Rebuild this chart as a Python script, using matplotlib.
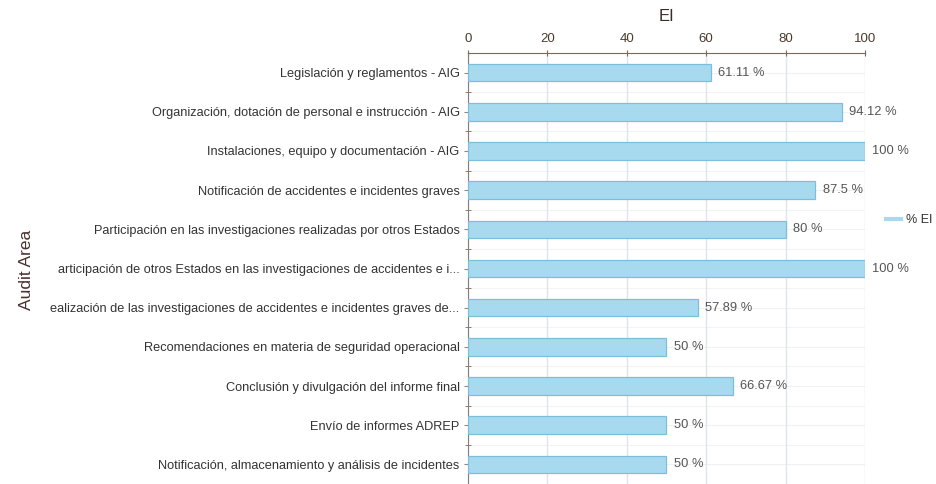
import matplotlib

matplotlib.use("Agg")
import matplotlib.pyplot as plt

areas = [
    "Legislación y reglamentos - AIG",
    "Organización, dotación de personal e instrucción - AIG",
    "Instalaciones, equipo y documentación - AIG",
    "Notificación de accidentes e incidentes graves",
    "Participación en las investigaciones realizadas por otros Estados",
    "articipación de otros Estados en las investigaciones de accidentes e i...",
    "ealización de las investigaciones de accidentes e incidentes graves de...",
    "Recomendaciones en materia de seguridad operacional",
    "Conclusión y divulgación del informe final",
    "Envío de informes ADREP",
    "Notificación, almacenamiento y análisis de incidentes",
]
ei = [61.11, 94.12, 100, 87.5, 80, 100, 57.89, 50, 66.67, 50, 50]
value_labels = ["61.11 %", "94.12 %", "100 %", "87.5 %", "80 %", "100 %",
                "57.89 %", "50 %", "66.67 %", "50 %", "50 %"]
x_ticks = [0, 20, 40, 60, 80, 100]

plt.rcParams["font.family"] = ["Liberation Sans", "DejaVu Sans"]

fig = plt.figure(figsize=(9.37, 4.84), dpi=100)
ax = fig.add_axes([468 / 937, 0.0, 397 / 937, 1 - 53 / 484])

ypos = list(range(len(areas)))
ax.barh(ypos, ei, height=0.45, color="#a8daef", edgecolor="#7cbfdb",
        linewidth=0.9, zorder=3, label="% EI")
for y, v, lab in zip(ypos, ei, value_labels):
    ax.text(v + 1.8, y, lab, va="center", ha="left", fontsize=9.3,
            color="#555555", zorder=4)

ax.set_xlim(0, 100)
ax.set_ylim(len(areas) - 0.5, -0.5)
ax.xaxis.tick_top()
ax.xaxis.set_label_position("top")
ax.set_xticks(x_ticks)
ax.set_xticklabels([str(t) for t in x_ticks], fontsize=9.5, color="#4a3b2e")
ax.tick_params(axis="x", length=4, direction="inout", color="#7a6a5a", pad=4)

ax.set_yticks(ypos)
ax.set_yticklabels(areas, fontsize=9.2, color="#333333")
ax.tick_params(axis="y", length=3, direction="out", color="#8a8a8a", pad=3)
ax.set_yticks([y + 0.5 for y in ypos[:-1]], minor=True)
ax.tick_params(axis="y", which="minor", length=4, direction="inout", color="#7a6a5a")

ax.grid(axis="x", color="#dfe4ee", linewidth=1, zorder=0)
for y in ypos:
    ax.axhline(y, color="#f0f0f0", linewidth=0.8, zorder=0)
for y in ypos[:-1]:
    ax.axhline(y + 0.5, color="#f3f3f3", linewidth=0.8, zorder=0)

for side in ["right", "bottom"]:
    ax.spines[side].set_visible(False)
ax.spines["top"].set_color("#7a6a5a")
ax.spines["left"].set_color("#8a7a7a")

ax.set_title("EI", fontsize=12, color="#3a2a2a", pad=23)
fig.text(27 / 937, 1 - 270 / 484, "Audit Area", rotation=90, va="center",
         ha="center", fontsize=12.5, color="#4a3030")

leg = fig.legend(handles=[plt.Line2D([], [], color="#a8daef", linewidth=3)],
                 labels=["% EI"], loc="center left",
                 bbox_to_anchor=(886 / 937, 1 - 220 / 484), frameon=False,
                 fontsize=9, handlelength=1.2, handletextpad=0.4,
                 borderpad=0, borderaxespad=0)
for t in leg.get_texts():
    t.set_color("#333333")

fig.savefig("out.png", dpi=100)
